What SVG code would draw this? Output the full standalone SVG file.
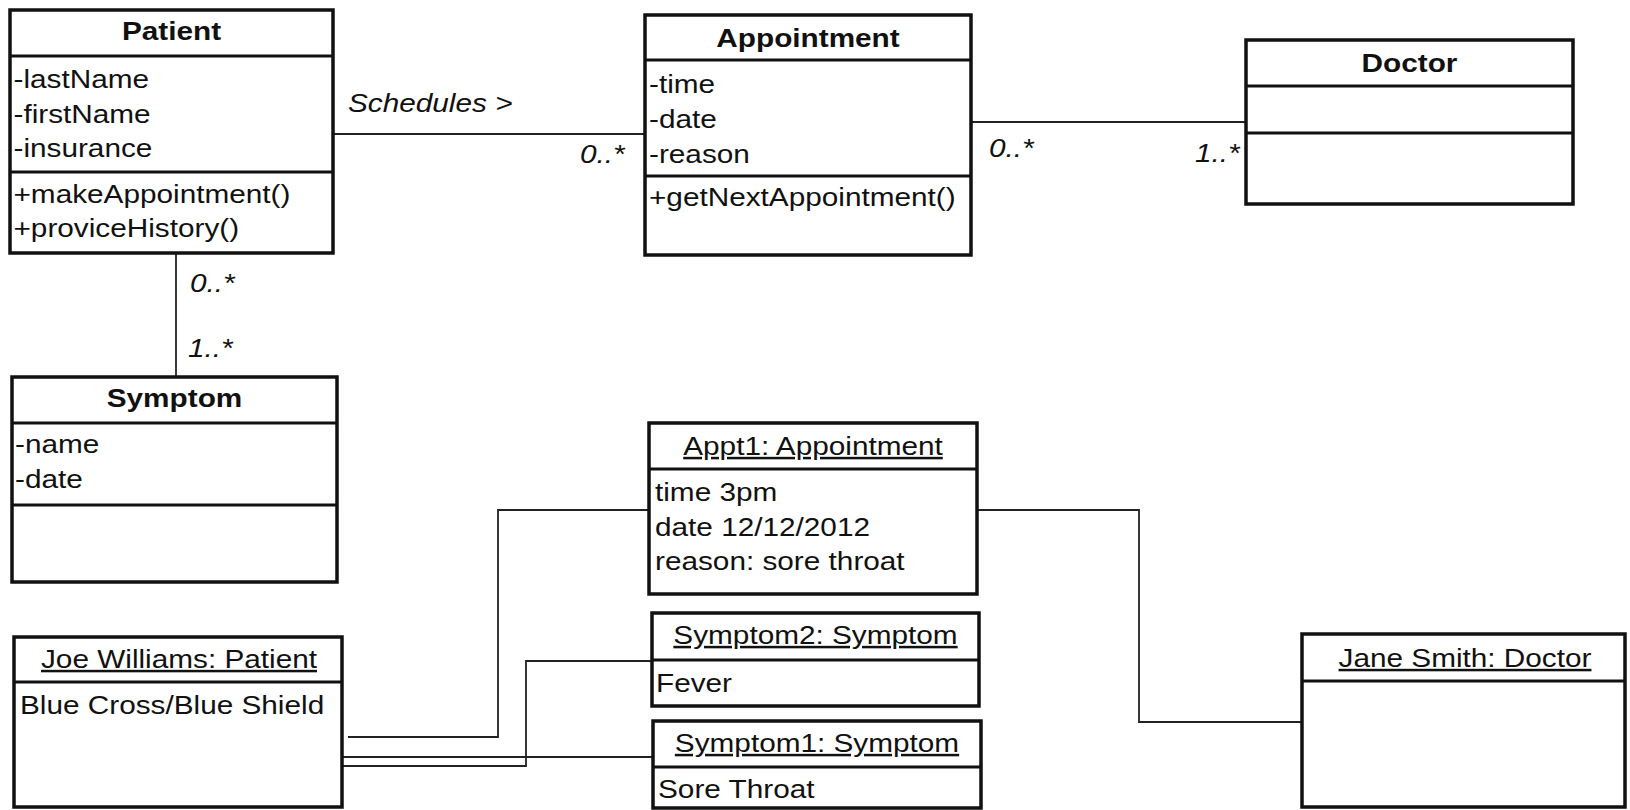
<svg xmlns="http://www.w3.org/2000/svg" width="1630" height="810" viewBox="0 0 1630 810">
  <style>
    .box { fill: #fff; stroke: #111; stroke-width: 3.5; }
    .div { stroke: #111; stroke-width: 3.2; fill: none; }
    .conn { stroke: #222; stroke-width: 1.8; fill: none; }
    text { font-family: "Liberation Sans", Arial, Helvetica, sans-serif; font-size: 25px; fill: #111; }
    .name { font-weight: bold; text-anchor: middle; }
    .obj { text-anchor: middle; text-decoration: underline; }
    .mult { font-style: italic; }
  </style>

  <rect width="1630" height="810" fill="#fff"/>

  <!-- associations and object links -->
  <g id="connectors">
    <path class="conn" d="M333 134 H645"/>
    <path class="conn" d="M971 122 H1246"/>
    <path class="conn" d="M176 253 V377"/>
    <path class="conn" d="M348 737 H498 V510 H649"/>
    <path class="conn" d="M342 757 H653"/>
    <path class="conn" d="M342 766 H526 V661 H652"/>
    <path class="conn" d="M977 510 H1139 V722 H1302"/>
    <text class="mult" transform="translate(348 0) scale(1.19 1)" y="112">Schedules &gt;</text>
    <text class="mult" transform="translate(580 0) scale(1.19 1)" y="163">0..*</text>
    <text class="mult" transform="translate(989 0) scale(1.19 1)" y="157">0..*</text>
    <text class="mult" transform="translate(1195 0) scale(1.19 1)" y="162">1..*</text>
    <text class="mult" transform="translate(190 0) scale(1.19 1)" y="292">0..*</text>
    <text class="mult" transform="translate(188 0) scale(1.19 1)" y="357">1..*</text>
  </g>

  <!-- class Patient -->
  <g id="patient">
    <rect class="box" x="10" y="10" width="323" height="243"/>
    <path class="div" d="M10 56 H333 M10 172 H333"/>
    <text class="name" transform="translate(171.5 0) scale(1.19 1)" y="40">Patient</text>
    <text transform="translate(13.5 0) scale(1.19 1)" y="88">-lastName</text>
    <text transform="translate(13.5 0) scale(1.19 1)" y="123">-firstName</text>
    <text transform="translate(13.5 0) scale(1.19 1)" y="157">-insurance</text>
    <text transform="translate(13.5 0) scale(1.19 1)" y="203">+makeAppointment()</text>
    <text transform="translate(13.5 0) scale(1.19 1)" y="237">+proviceHistory()</text>
  </g>

  <!-- class Appointment -->
  <g id="appointment">
    <rect class="box" x="645" y="15" width="326" height="240"/>
    <path class="div" d="M645 60 H971 M645 176 H971"/>
    <text class="name" transform="translate(808 0) scale(1.19 1)" y="47">Appointment</text>
    <text transform="translate(649 0) scale(1.19 1)" y="93">-time</text>
    <text transform="translate(649 0) scale(1.19 1)" y="128">-date</text>
    <text transform="translate(649 0) scale(1.19 1)" y="163">-reason</text>
    <text transform="translate(649 0) scale(1.19 1)" y="206">+getNextAppointment()</text>
  </g>

  <!-- class Doctor -->
  <g id="doctor">
    <rect class="box" x="1246" y="40" width="327" height="164"/>
    <path class="div" d="M1246 86 H1573 M1246 133 H1573"/>
    <text class="name" transform="translate(1409.5 0) scale(1.19 1)" y="72">Doctor</text>
  </g>

  <!-- class Symptom -->
  <g id="symptom">
    <rect class="box" x="12" y="377" width="325" height="205"/>
    <path class="div" d="M12 423 H337 M12 505 H337"/>
    <text class="name" transform="translate(174.5 0) scale(1.19 1)" y="407">Symptom</text>
    <text transform="translate(15 0) scale(1.19 1)" y="453">-name</text>
    <text transform="translate(15 0) scale(1.19 1)" y="488">-date</text>
  </g>

  <!-- object Appt1 -->
  <g id="appt1">
    <rect class="box" x="649" y="423" width="328" height="171"/>
    <path class="div" d="M649 469 H977"/>
    <text class="obj" transform="translate(813 0) scale(1.19 1)" y="455">Appt1: Appointment</text>
    <text transform="translate(655 0) scale(1.19 1)" y="501">time 3pm</text>
    <text transform="translate(655 0) scale(1.19 1)" y="536">date 12/12/2012</text>
    <text transform="translate(655 0) scale(1.19 1)" y="570">reason: sore throat</text>
  </g>

  <!-- object Symptom2 -->
  <g id="symptom2">
    <rect class="box" x="652" y="613" width="327" height="93"/>
    <path class="div" d="M652 660 H979"/>
    <text class="obj" transform="translate(815.5 0) scale(1.19 1)" y="644">Symptom2: Symptom</text>
    <text transform="translate(656 0) scale(1.19 1)" y="692">Fever</text>
  </g>

  <!-- object Symptom1 -->
  <g id="symptom1">
    <rect class="box" x="653" y="721" width="328" height="87"/>
    <path class="div" d="M653 767 H981"/>
    <text class="obj" transform="translate(817 0) scale(1.19 1)" y="752">Symptom1: Symptom</text>
    <text transform="translate(658 0) scale(1.19 1)" y="798">Sore Throat</text>
  </g>

  <!-- object Joe Williams -->
  <g id="joe-williams">
    <rect class="box" x="14" y="637" width="328" height="170"/>
    <path class="div" d="M14 682 H342"/>
    <text class="obj" transform="translate(179 0) scale(1.19 1)" y="668">Joe Williams: Patient</text>
    <text transform="translate(20 0) scale(1.19 1)" y="714">Blue Cross/Blue Shield</text>
  </g>

  <!-- object Jane Smith -->
  <g id="jane-smith">
    <rect class="box" x="1302" y="634" width="323" height="173"/>
    <path class="div" d="M1302 681 H1625"/>
    <text class="obj" transform="translate(1465 0) scale(1.19 1)" y="667">Jane Smith: Doctor</text>
  </g>
</svg>
